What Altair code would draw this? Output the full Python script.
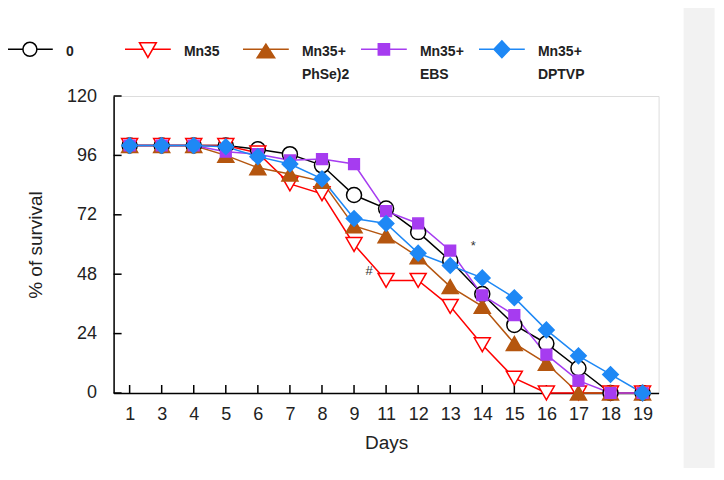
import altair as alt
import pandas as pd

# ---------------- data ----------------
days = [1, 3, 4, 5, 6, 7, 8, 9, 11, 12, 13, 14, 15, 16, 17, 18, 19]
series_names = ["0|", "Mn35|", "Mn35+|PhSe)2", "Mn35+|EBS", "Mn35+|DPTVP"]
surv_0 = [100, 100, 100, 100, 98.5, 96.5, 92, 80, 74.5, 65, 53.5, 40, 27.5, 20, 10, 0, 0]
surv_mn35 = [100, 100, 100, 100, 97, 84.5, 80.5, 60, 45.5, 45.5, 35, 19.5, 6, 0, 0, 0, 0]
surv_phse = [100, 100, 100, 96, 91, 88.5, 85.5, 67.5, 63.5, 55, 43, 35, 20, 12, 0, 0, 0]
surv_ebs = [100, 100, 100, 97.5, 96.5, 94, 94.5, 92.5, 73.5, 68.5, 57.5, 39.5, 31.5, 15.5, 5, 0, 0]
surv_dptvp = [100, 100, 100, 99.5, 95.5, 92.5, 86.5, 70.5, 68.5, 56.5, 51.5, 46.5, 38.5, 25.5, 15, 7.5, 0]
y_ticks = [0, 24, 48, 72, 96, 120]
ann_text = ["#", "*"]
ann_day = [11, 14]
ann_value = [49.4, 59.5]

# ---------------- styles ----------------
stroke_colors = ["#000000", "#ff0000", "#b5560f", "#a63cf0", "#1e88f5"]
fill_colors = ["#ffffff", "#ffffff", "#b5560f", "#a63cf0", "#1e88f5"]
shapes = ["circle", "triangle-down", "triangle-up", "square", "diamond"]
sizes = [225, 256, 256, 115, 240]
ann_dx = [-17, -9]

W, H = 545, 297
FONT = "Liberation Sans"

# legend symbols: marker + horizontal line, drawn in unit coordinates
L = 3.27
cy = -0.38
legend_paths = [
    f"M{-L},{cy}H-1M1,{cy}H{L}M-1,{cy}A1,1,0,1,1,1,{cy}A1,1,0,1,1,-1,{cy}Z",
    f"M{-L},{cy}H-0.66M0.66,{cy}H{L}M-1.2,{cy-0.95}L1.2,{cy-0.95}L0,{cy+1.15}Z",
    f"M{-L},{cy}H{L}M0,{cy-0.75}L1.25,{cy+1.2}L-1.25,{cy+1.2}Z",
    f"M{-L},{cy}H{L}M-0.8,{cy-0.8}H0.8V{cy+0.8}H-0.8Z",
    f"M{-L},{cy}H{L}M-1.14,{cy}L0,{cy-1.2}L1.14,{cy}L0,{cy+1.2}Z",
]

rows = []
for name, vals in zip(series_names, [surv_0, surv_mn35, surv_phse, surv_ebs, surv_dptvp]):
    for d, v in zip(days, vals):
        rows.append({"day": d, "survival": v, "series": name})
df = pd.DataFrame(rows)

x_enc = alt.X(
    "day:O",
    scale=alt.Scale(type="point", padding=0.5),
    axis=alt.Axis(
        title="Days", labelAngle=0, ticks=False, tickSize=0, grid=False,
        domainColor="#000000", domainWidth=1.5, labelPadding=13,
        labelFontSize=18, labelColor="#222222", labelFont=FONT,
        titleFontSize=19, titleFontWeight="normal", titleColor="#222222",
        titleFont=FONT, titlePadding=10,
    ),
)
y_enc = alt.Y(
    "survival:Q",
    scale=alt.Scale(domain=[0, 120], nice=False, zero=True),
    axis=alt.Axis(
        values=y_ticks, title="% of survival", ticks=False, tickSize=0, grid=False,
        domainColor="#000000", domainWidth=1.5, labelPadding=17,
        labelFontSize=18, labelColor="#222222", labelFont=FONT,
        titleFontSize=19, titleFontWeight="normal", titleColor="#222222",
        titleFont=FONT, titlePadding=21,
    ),
)

stroke_scale = alt.Scale(domain=series_names, range=stroke_colors)
fill_scale = alt.Scale(domain=series_names, range=fill_colors)

panel = alt.Chart(pd.DataFrame({"p": [0]})).mark_rect(color="#f2f2f2").encode(
    x=alt.value(570), x2=alt.value(601), y=alt.value(-88), y2=alt.value(372)
)

x_ticks = alt.Chart(pd.DataFrame({"day": days})).mark_rule(
    color="#000000", strokeWidth=1.5
).encode(x=x_enc, y=alt.value(H), y2=alt.value(H - 8))

y_tick_marks = alt.Chart(pd.DataFrame({"survival": y_ticks})).mark_rule(
    color="#000000", strokeWidth=1.5
).encode(y=y_enc, x=alt.value(0), x2=alt.value(8))

lines = alt.Chart(df).mark_line(strokeWidth=1.5).encode(
    x=x_enc, y=y_enc,
    stroke=alt.Stroke("series:N", scale=stroke_scale, legend=None),
)

points = alt.Chart(df).mark_point(filled=False, opacity=1, strokeWidth=1.5).encode(
    x=x_enc, y=y_enc,
    shape=alt.Shape("series:N", scale=alt.Scale(domain=series_names, range=shapes), legend=None),
    stroke=alt.Stroke("series:N", scale=stroke_scale, legend=None),
    fill=alt.Fill("series:N", scale=fill_scale, legend=None),
    size=alt.Size("series:N", scale=alt.Scale(type="ordinal", domain=series_names, range=sizes), legend=None),
)

leg = alt.Legend(
    title=None, orient="none", legendX=-91.7, legendY=-52, direction="horizontal",
    columns=5, gridAlign="all", columnPadding=8, symbolSize=196,
    symbolStrokeWidth=1.5, labelOffset=28, labelFont=FONT, labelFontSize=14,
    labelFontWeight="bold", labelColor="#222222", labelLimit=0,
    labelBaseline="middle", labelExpr="split(datum.label, '|')",
)
legend_layer = alt.Chart(df).transform_filter("false").mark_point(
    filled=False, opacity=1, strokeWidth=1.5
).encode(
    shape=alt.Shape("series:N", scale=alt.Scale(domain=series_names, range=legend_paths), legend=leg),
    stroke=alt.Stroke("series:N", scale=stroke_scale, legend=leg),
    fill=alt.Fill("series:N", scale=fill_scale, legend=leg),
)

ann_layers = []
for t, d, v, dx in zip(ann_text, ann_day, ann_value, ann_dx):
    ann_layers.append(
        alt.Chart(pd.DataFrame({"day": [d], "survival": [v], "t": [t]})).mark_text(
            dx=dx, fontSize=13, color="#333333", font=FONT
        ).encode(x=x_enc, y=y_enc, text="t:N")
    )

chart = alt.layer(
    panel, x_ticks, y_tick_marks, lines, points, legend_layer, *ann_layers
).resolve_scale(
    shape="independent", stroke="independent", fill="independent", size="independent"
).properties(
    width=W, height=H, padding={"left": 13.6, "top": 0, "right": 0, "bottom": 0}
).configure_view(stroke=None).configure(
    font=FONT, style={"guide-label": {"lineHeight": 23}}
)

chart.save("out.html", embed_options={"renderer": "svg", "actions": False})
